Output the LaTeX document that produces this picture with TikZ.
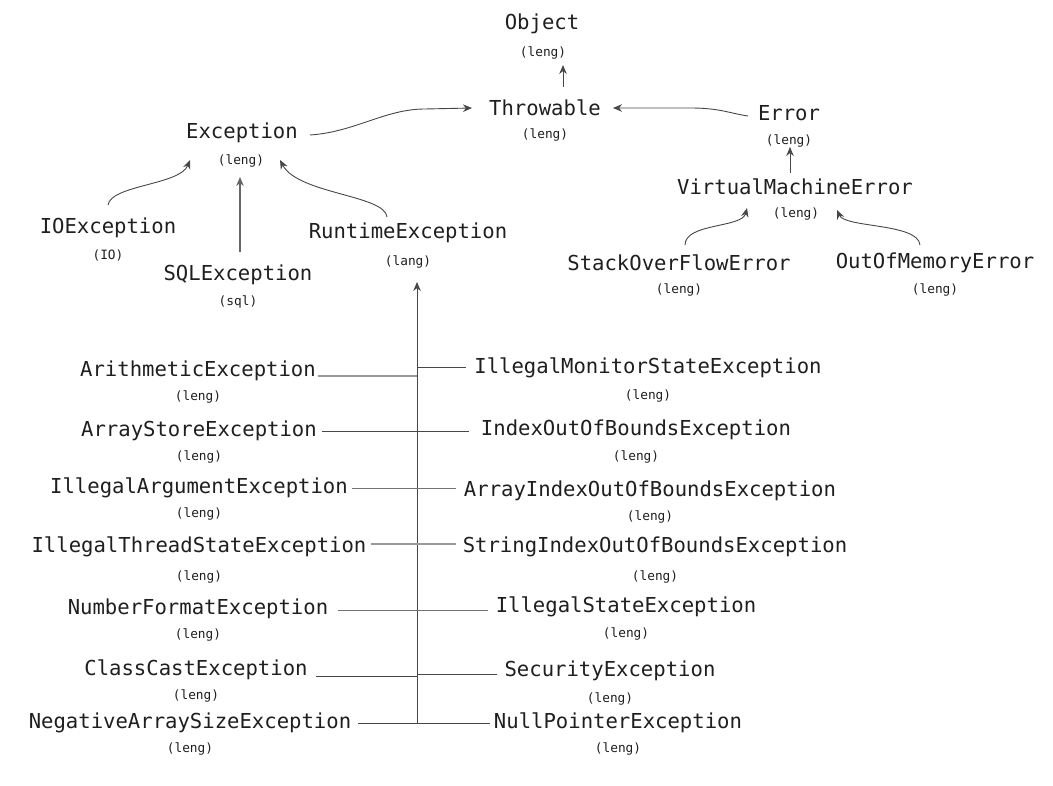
\documentclass[tikz,border=0pt]{standalone}
\usepackage{fontspec}
\setmonofont{DejaVu Sans Mono}
\usetikzlibrary{arrows.meta,calc}
\newcommand{\clsfont}{\ttfamily\fontsize{20.6}{24}\selectfont}
\newcommand{\pkgfont}{\ttfamily\fontsize{12.8}{15}\selectfont}
\begin{document}
\begin{tikzpicture}[x=1pt,y=-1pt,
  cls/.style={font=\clsfont, inner sep=0pt, text=black!88},
  pkg/.style={font=\pkgfont, inner sep=0pt, text=black!88},
  arr/.style={draw=black!72, line width=0.9pt, -{Stealth[length=9pt,width=7.5pt]}},
  dk/.style={draw=black!72, line width=0.8pt},
  md/.style={draw=black!55, line width=0.9pt},
  lt/.style={draw=black!40, line width=1.2pt}]
\useasboundingbox[fill=white] (0,0) rectangle (1053,786);

% top part
\node[cls] (obj) at (542,24) {Object};
\node[pkg] (objl) at (543,53) {(leng)};
\node[cls] (thr) at (545,108) {Throwable};
\node[pkg] (thrl) at (545,135) {(leng)};
\node[cls] (exc) at (242,133) {Exception};
\node[pkg] (excl) at (241,161) {(leng)};
\node[cls] (err) at (789,113) {Error};
\node[pkg] (errl) at (789,141) {(leng)};
\node[cls] (vme) at (795,187) {VirtualMachineError};
\node[pkg] (vmel) at (796,214) {(leng)};
\node[cls] (io) at (108,228) {IOException};
\node[pkg] (iol) at (108,255) {(IO)};
\node[cls] (sql) at (238,275) {SQLException};
\node[pkg] (sqll) at (238,302) {(sql)};
\node[cls] (rt) at (408,233) {RuntimeException};
\node[pkg] (rtl) at (408,262) {(lang)};
\node[cls] (so) at (679,263) {StackOverFlowError};
\node[pkg] (sol) at (679,290) {(leng)};
\node[cls] (oom) at (935,263) {OutOfMemoryError};
\node[pkg] (ooml) at (935,290) {(leng)};

% left column
\node[cls] (ari) at (198,371) {ArithmeticException};
\node[pkg] (aril) at (198,397) {(leng)};
\node[cls] (ase) at (199,431) {ArrayStoreException};
\node[pkg] (asel) at (199,457) {(leng)};
\node[cls] (iae) at (199,488) {IllegalArgumentException};
\node[pkg] (iael) at (199,514) {(leng)};
\node[cls] (itse) at (199,547) {IllegalThreadStateException};
\node[pkg] (itsel) at (199,577) {(leng)};
\node[cls] (nfe) at (198,609) {NumberFormatException};
\node[pkg] (nfel) at (198,635) {(leng)};
\node[cls] (cce) at (196,670) {ClassCastException};
\node[pkg] (ccel) at (196,696) {(leng)};
\node[cls] (nase) at (190,723) {NegativeArraySizeException};
\node[pkg] (nasel) at (190,749) {(leng)};

% right column
\node[cls] (imse) at (648,368) {IllegalMonitorStateException};
\node[pkg] (imsel) at (648,396) {(leng)};
\node[cls] (ioobe) at (636,430) {IndexOutOfBoundsException};
\node[pkg] (ioobel) at (636,457) {(leng)};
\node[cls] (aioobe) at (650,491) {ArrayIndexOutOfBoundsException};
\node[pkg] (aioobel) at (650,517) {(leng)};
\node[cls] (sioobe) at (655,547) {StringIndexOutOfBoundsException};
\node[pkg] (sioobel) at (655,577) {(leng)};
\node[cls] (ise) at (626,607) {IllegalStateException};
\node[pkg] (isel) at (626,634) {(leng)};
\node[cls] (sece) at (610,671) {SecurityException};
\node[pkg] (secel) at (610,699) {(leng)};
\node[cls] (npe) at (618,723) {NullPointerException};
\node[pkg] (npel) at (618,749) {(leng)};

% arrows top
\draw[arr] ($(thr)+(18,-21)$) -- ($(objl)+(20,12)$);
\draw[arr] ($(exc)+(68,2)$) .. controls +(45,-3) and +(-40,0) .. ($(thr)+(-120,1)$) -- ($(thr)+(-73,0)$);
\draw[arr] ($(err)+(-41,3)$) .. controls +(-20,-3) and +(30,0) .. ($(thr)+(145,0)$) -- ($(thr)+(68,0)$);
\draw[arr] ($(vme)+(-5,-14)$) -- ($(errl)+(1,6)$);
\draw[arr] ($(so)+(6,-18)$) .. controls +(0,-22) and +(-5,20) .. ($(vme)+(-48,21)$);
\draw[arr] ($(oom)+(-15,-18)$) .. controls +(-2,-22) and +(8,18) .. ($(vme)+(42,23)$);
\draw[arr] ($(io)+(0,-23)$) .. controls +(3,-20) and +(-10,25) .. ($(exc)+(-52,27)$);
\draw[arr, draw=black!60, line width=1.1pt] ($(sql)+(2,-23)$) -- ($(excl)+(-1,16)$);
\draw[arr] ($(rt)+(-21,-16)$) .. controls +(-2,-22) and +(18,34) .. ($(exc)+(38,27)$);

% trunk
\coordinate (tb) at (417,723);
\draw[arr] (tb) -- ($(rtl)+(9,20)$);

% branches
\draw[lt] ($(ari.east)+(2,5)$) coordinate (b1) -- (b1 -| tb);
\draw[dk] ($(imse.west)+(-8,-1)$) coordinate (b2) -- (b2 -| tb);
\draw[dk] ($(ase.east)+(5,0)$) -- ($(ioobe.west)+(-12,1)$);
\draw[md] ($(iae.east)+(4,0)$) -- ($(aioobe.west)+(-8,-3)$);
\draw[lt] ($(itse.east)+(4,-3)$) -- ($(sioobe.west)+(-7,-3)$);
\draw[md] ($(nfe.east)+(10,1)$) -- ($(ise.west)+(-8,3)$);
\draw[dk] ($(cce.east)+(8,6)$) coordinate (b3) -- (b3 -| tb);
\draw[dk] ($(sece.west)+(-7,3)$) coordinate (b4) -- (b4 -| tb);
\draw[dk] ($(nase.east)+(7,0)$) -- ($(npe.west)+(-4,0)$);
\end{tikzpicture}
\end{document}
